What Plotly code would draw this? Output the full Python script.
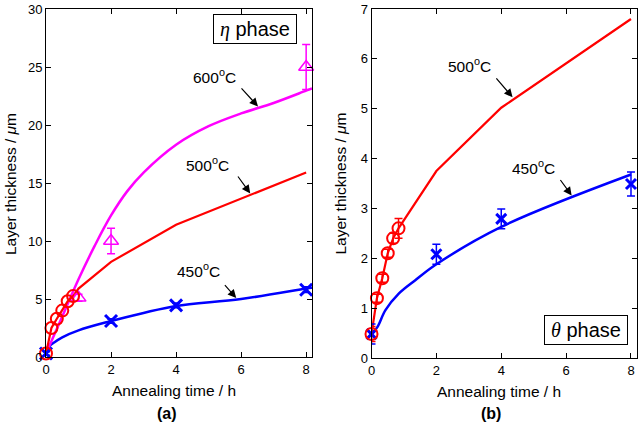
import plotly.graph_objects as go

# ---------------- data: panel (a) eta phase ----------------
a450_t = [0, 2, 4, 8]
a450_v = [0.3, 3.1, 4.45, 5.8]
a450_err = [0.15, 0.2, 0.2, 0.25]
a450_line_t = [0, 0.1, 0.25, 0.5, 1, 2, 3, 4, 6, 8, 8.18]
a450_line_v = [0.3, 0.9, 1.25, 1.7, 2.3, 3.1, 3.8, 4.4, 5.0, 5.9, 5.97]

a500_t = [0, 0.167, 0.333, 0.5, 0.667, 0.833]
a500_v = [0.3, 2.5, 3.3, 4.0, 4.8, 5.25]
a500_line_t = [0, 0.167, 0.333, 0.5, 0.667, 0.833, 1, 2, 4, 8]
a500_line_v = [0.3, 2.5, 3.3, 4.0, 4.8, 5.25, 5.9, 8.2, 11.4, 15.9]

a600_t = [1, 2, 8]
a600_v = [5.1, 10.0, 25.0]
a600_err = [0.3, 1.1, 1.95]
a600_line_t = [0, 0.5, 1, 1.5, 2, 2.5, 3, 4, 5, 6, 7, 8, 8.18]
a600_line_v = [0.3, 3.5, 6.7, 9.6, 12.2, 14.3, 15.9, 18.3, 19.9, 21.0, 21.9, 22.96, 23.15]

# ---------------- data: panel (b) theta phase ----------------
b450_t = [0, 2, 4, 8]
b450_v = [0.48, 2.08, 2.79, 3.49]
b450_err = [0.2, 0.2, 0.2, 0.24]
b450_line_t = [0, 0.18, 0.43, 0.84, 1.35, 2, 4, 8]
b450_line_v = [0.48, 0.62, 0.96, 1.29, 1.56, 1.88, 2.63, 3.68]

b500_t = [0, 0.167, 0.333, 0.5, 0.667, 0.833]
b500_v = [0.48, 1.2, 1.6, 2.1, 2.4, 2.6]
b500_err = [0.15, 0.08, 0.08, 0.08, 0.1, 0.2]
b500_line_t = [0, 0.167, 0.333, 0.5, 0.667, 0.833, 2, 4, 8]
b500_line_v = [0.48, 1.2, 1.6, 2.1, 2.4, 2.6, 3.75, 5.02, 6.8]

x_ticks = [0, 2, 4, 6, 8]
ya_ticks = [0, 5, 10, 15, 20, 25, 30]
yb_ticks = [0, 1, 2, 3, 4, 5, 6, 7]

RED = "#ff0000"
BLUE = "#0000ff"
MAG = "#ff00ff"

W, H = 640, 424
fig = go.Figure()

def line(t, v, color, width, xa, ya, shape="linear"):
    fig.add_trace(go.Scatter(x=t, y=v, mode="lines", line=dict(color=color, width=width, shape=shape),
                             xaxis=xa, yaxis=ya, showlegend=False, hoverinfo="skip"))

def pts(t, v, err, symbol, color, size, lw, xa, ya):
    fig.add_trace(go.Scatter(
        x=t, y=v, mode="markers",
        marker=dict(symbol=symbol, size=size, color=color, line=dict(color=color, width=lw)),
        error_y=dict(type="data", array=err, visible=err is not None, color=color, thickness=1.5, width=4),
        xaxis=xa, yaxis=ya, showlegend=False, cliponaxis=False, hoverinfo="skip"))

# panel (a)
line(a450_line_t, a450_line_v, BLUE, 2.5, "x", "y", "spline")
line(a600_line_t, a600_line_v, MAG, 2.5, "x", "y", "spline")
line(a500_line_t, a500_line_v, RED, 2.2, "x", "y")
pts(a450_t, a450_v, a450_err, "x-thin-open", BLUE, 12, 3, "x", "y")
pts(a600_t, a600_v, a600_err, "triangle-up-open", MAG, 13, 1.5, "x", "y")
pts(a500_t, a500_v, None, "circle-open", RED, 12, 2, "x", "y")

# panel (b)
line(b450_line_t, b450_line_v, BLUE, 2.5, "x2", "y2", "spline")
line(b500_line_t, b500_line_v, RED, 2.2, "x2", "y2")
pts(b450_t, b450_v, b450_err, "x-thin-open", BLUE, 10, 3, "x2", "y2")
pts(b500_t, b500_v, b500_err, "circle-open", RED, 12, 2, "x2", "y2")

FONT = "Liberation Sans, Arial, sans-serif"
axis_common = dict(showline=True, linecolor="black", linewidth=1, mirror="ticks",
                   ticks="inside", ticklen=5, tickcolor="black", showgrid=False,
                   zeroline=False, automargin=False,
                   tickfont=dict(family=FONT, size=13, color="black"))

fig.update_layout(
    width=W, height=H, margin=dict(l=0, r=0, t=0, b=0, autoexpand=False),
    paper_bgcolor="white", plot_bgcolor="white",
    xaxis=dict(domain=[46 / W, 312 / W], range=[0, 8.18], tickvals=x_ticks, anchor="y", **axis_common),
    yaxis=dict(domain=[1 - 357 / H, 1 - 9 / H], range=[0, 30], tickvals=ya_ticks, anchor="x", **axis_common),
    xaxis2=dict(domain=[371.5 / W, 636.5 / W], range=[0, 8.17], tickvals=x_ticks, anchor="y2", **axis_common),
    yaxis2=dict(domain=[1 - 358 / H, 1 - 9 / H], range=[0, 7], tickvals=yb_ticks, anchor="x2", **axis_common),
)

anns = []
def txt(x, y, text, size=15.5, xref="paper", yref="paper", **kw):
    d = dict(x=x, y=y, xref=xref, yref=yref, text=text, showarrow=False,
             font=dict(family=FONT, size=size, color="black"), xanchor="center", yanchor="middle")
    d.update(kw)
    anns.append(d)

def px(xp, yp):
    return xp / W, 1 - yp / H

# axis titles
for (cx, cy) in [(174, 390), (499, 391)]:
    x, y = px(cx, cy)
    txt(x, y, "Annealing time / h")
for (cx, cy) in [(10, 184), (339.5, 184)]:
    x, y = px(cx, cy)
    txt(x, y, "Layer thickness / <i>μ</i>m", textangle=-90)
# panel labels
x, y = px(167, 413); txt(x, y, "<b>(a)</b>", size=16)
x, y = px(491, 413); txt(x, y, "<b>(b)</b>", size=16)

# phase boxes
ETA = "<i><span style='font-family:Liberation Serif'>η</span></i> phase"
THETA = "<i><span style='font-family:Liberation Serif'>θ</span></i> phase"
x, y = px(255, 29)
txt(x, y, ETA, size=20, bordercolor="black", borderwidth=1, borderpad=1, width=80, height=26, bgcolor="white")
x, y = px(586, 330.3)
txt(x, y, THETA, size=20, bordercolor="black", borderwidth=1, borderpad=1, width=80, height=26, bgcolor="white")

# temperature labels
labels = [(214, 76, "600<sup>o</sup>C"), (207, 164, "500<sup>o</sup>C"), (198.7, 270, "450<sup>o</sup>C"),
          (469.7, 65, "500<sup>o</sup>C"), (533.7, 166.5, "450<sup>o</sup>C")]
for cx, cy, t in labels:
    x, y = px(cx, cy)
    txt(x, y, t, size=15.5)

# arrows (head on the curve, tail near the label)
arrows = [("x", "y", 6.52, 21.6, 5.97, 23.28),
          ("x", "y", 6.28, 14.1, 5.87, 15.69),
          ("x", "y", 5.85, 5.09, 5.46, 6.32),
          ("x2", "y2", 4.35, 5.23, 3.81, 5.64),
          ("x2", "y2", 6.17, 3.26, 5.79, 3.6)]
for xa, ya, hx, hy, tx, ty in arrows:
    anns.append(dict(x=hx, y=hy, ax=tx, ay=ty, xref=xa, yref=ya, axref=xa, ayref=ya,
                     text="", showarrow=True, arrowhead=2, arrowsize=1.4, arrowwidth=1.2,
                     arrowcolor="black"))

fig.update_layout(annotations=anns)
fig.write_html("out.html", config={"displayModeBar": False},
               post_script="document.body.style.margin='0px';document.body.style.overflow='hidden';")
